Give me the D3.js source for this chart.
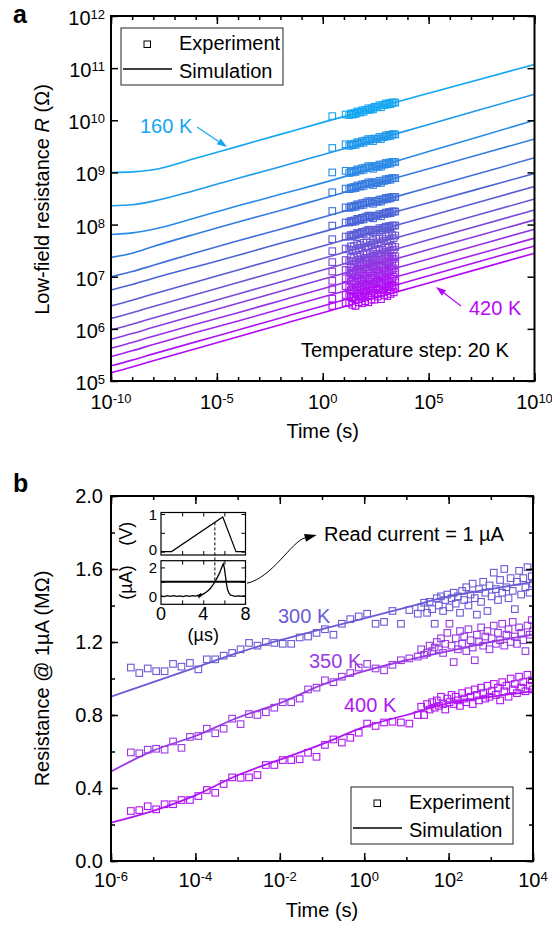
<!DOCTYPE html>
<html>
<head>
<meta charset="utf-8">
<script src="https://cdn.jsdelivr.net/npm/d3@7"></script>
<style>
  body { margin: 0; background: #fff; }
  svg { font-family: "Liberation Sans", Arial, sans-serif; }
  .ticks line { stroke: #000; stroke-width: 1.5; }
  .ticksSmall line { stroke: #000; stroke-width: 1; }
</style>
</head>
<body>
<div id="chart"></div>
<script>
// ===== panel a : simulated curves, log10(time / s) vs log10(R / ohm) =====
const tempsA = [160, 180, 200, 220, 240, 260, 280, 300, 320, 340, 360, 380, 400, 420];
const colorsA = ['#14a6f2', '#1f98ec', '#2a8ae6', '#347ce0', '#3f6fdb', '#4b63d7', '#5a5bd5',
                 '#6b55d6', '#7a4ad9', '#8a3ddf', '#9830e5', '#a322ec', '#ad14f2', '#b508f8'];
const simLogTA = [-10, -9, -8, -6, -4, -2, 0, 5, 10];
const simLogRA = [
    [9.00, 9.01, 9.05, 9.27, 9.50, 9.73, 9.96, 10.52, 11.07],
    [8.36, 8.38, 8.45, 8.66, 8.89, 9.11, 9.34, 9.92, 10.50],
    [7.81, 7.84, 7.91, 8.13, 8.36, 8.58, 8.80, 9.40, 10.00],
    [7.37, 7.45, 7.58, 7.82, 8.05, 8.27, 8.50, 9.07, 9.64],
    [7.00, 7.10, 7.22, 7.46, 7.69, 7.91, 8.14, 8.71, 9.28],
    [6.745, 6.85, 6.97, 7.19, 7.41, 7.64, 7.86, 8.42, 8.98],
    [6.44, 6.55, 6.67, 6.90, 7.13, 7.36, 7.59, 8.16, 8.73],
    [6.20, 6.31, 6.43, 6.66, 6.89, 7.12, 7.35, 7.92, 8.49],
    [5.98, 6.09, 6.21, 6.44, 6.67, 6.90, 7.13, 7.71, 8.28],
    [5.80, 5.91, 6.03, 6.26, 6.49, 6.72, 6.95, 7.52, 8.09],
    [5.63, 5.74, 5.86, 6.09, 6.31, 6.54, 6.77, 7.34, 7.91],
    [5.47, 5.58, 5.70, 5.93, 6.15, 6.38, 6.61, 7.17, 7.74],
    [5.29, 5.40, 5.52, 5.75, 5.98, 6.21, 6.44, 7.02, 7.59],
    [5.16, 5.27, 5.39, 5.62, 5.85, 6.08, 6.31, 6.88, 7.45]
];
// experiment (same log10 units)
const expLogTA = [0.45, 1.08,
    1.25, 1.325, 1.4, 1.475, 1.55, 1.625, 1.7, 1.775, 1.85, 1.925, 2.0, 2.075, 2.15, 2.225, 2.3,
    2.375, 2.45, 2.525, 2.6, 2.675, 2.75, 2.825, 2.9, 2.975, 3.05, 3.125, 3.2, 3.275, 3.35, 3.425];
const expLogRA = [
    [10.08,10.11, 10.10,10.13,10.11,10.14,10.12,10.17,10.15,10.15,10.19,10.16,10.20,10.20,10.23,10.20,10.23,10.21,10.26,10.25,10.25,10.29,10.25,10.29,10.29,10.32,10.30,10.33,10.31,10.34,10.34,10.34],
    [9.47,9.54, 9.51,9.54,9.52,9.55,9.53,9.58,9.56,9.56,9.60,9.57,9.61,9.61,9.64,9.61,9.64,9.60,9.65,9.64,9.64,9.68,9.64,9.68,9.68,9.71,9.69,9.72,9.70,9.73,9.73,9.73],
    [9.00,9.03, 8.99,9.02,9.00,9.03,9.01,9.06,9.04,9.04,9.08,9.05,9.09,9.09,9.12,9.09,9.12,9.07,9.12,9.11,9.11,9.15,9.11,9.15,9.15,9.18,9.16,9.19,9.17,9.20,9.20,9.20],
    [8.62,8.69, 8.68,8.71,8.69,8.72,8.70,8.75,8.73,8.73,8.77,8.74,8.78,8.78,8.81,8.78,8.81,8.76,8.81,8.80,8.80,8.84,8.80,8.84,8.84,8.87,8.85,8.88,8.86,8.89,8.89,8.89],
    [8.26,8.33, 8.32,8.35,8.33,8.36,8.34,8.39,8.37,8.37,8.41,8.38,8.42,8.42,8.45,8.42,8.45,8.40,8.45,8.44,8.44,8.48,8.44,8.48,8.48,8.51,8.49,8.52,8.50,8.53,8.53,8.53],
    [7.98,8.04, 8.04,8.07,8.05,8.08,8.06,8.11,8.09,8.09,8.13,8.10,8.14,8.14,8.17,8.14,8.17,8.12,8.17,8.16,8.16,8.20,8.16,8.20,8.20,8.23,8.21,8.24,8.22,8.25,8.25,8.25],
    [7.72,7.77, 7.77,7.80,7.78,7.81,7.79,7.84,7.82,7.82,7.86,7.83,7.87,7.87,7.90,7.87,7.90,7.85,7.90,7.89,7.89,7.93,7.89,7.93,7.93,7.96,7.94,7.97,7.95,7.98,7.98,7.98],
    [7.49,7.54, 7.52,7.58,7.51,7.59,7.51,7.63,7.55,7.61,7.55,7.65,7.58,7.68,7.58,7.65,7.61,7.70,7.62,7.73,7.66,7.73,7.64,7.73,7.69,7.78,7.69,7.78,7.72,7.80,7.74,7.79],
    [7.28,7.32, 7.30,7.36,7.29,7.37,7.29,7.41,7.33,7.39,7.33,7.43,7.36,7.46,7.36,7.43,7.39,7.48,7.40,7.51,7.44,7.51,7.42,7.51,7.47,7.56,7.47,7.56,7.50,7.58,7.52,7.57],
    [7.10,7.13, 7.12,7.18,7.11,7.19,7.11,7.23,7.15,7.21,7.15,7.25,7.18,7.28,7.18,7.25,7.21,7.30,7.22,7.33,7.26,7.33,7.24,7.33,7.29,7.38,7.29,7.38,7.32,7.40,7.34,7.39],
    [6.92,6.97, 6.96,7.07,6.92,7.07,6.90,7.13,6.97,7.08,6.95,7.15,6.99,7.18,6.97,7.11,7.02,7.19,7.02,7.23,7.08,7.21,7.03,7.20,7.11,7.28,7.09,7.26,7.13,7.29,7.16,7.25],
    [6.76,6.82, 6.80,6.91,6.76,6.91,6.74,6.97,6.81,6.92,6.79,6.99,6.83,7.02,6.81,6.95,6.86,7.03,6.86,7.07,6.92,7.05,6.87,7.04,6.95,7.12,6.93,7.10,6.97,7.13,7.00,7.09],
    [6.58,6.65, 6.63,6.74,6.59,6.74,6.57,6.80,6.64,6.75,6.62,6.82,6.66,6.85,6.64,6.78,6.69,6.86,6.69,6.90,6.75,6.88,6.70,6.87,6.78,6.95,6.76,6.93,6.80,6.96,6.83,6.92],
    [6.44,6.50, 6.50,6.61,6.46,6.61,6.44,6.67,6.51,6.62,6.49,6.69,6.53,6.72,6.51,6.65,6.56,6.73,6.56,6.77,6.62,6.75,6.57,6.74,6.65,6.82,6.63,6.80,6.67,6.83,6.70,6.79]
];

// ===== panel b : resistance @ 1 uA (MOhm) vs log10(time / s) =====
const tempsB = [300, 350, 400];
const colorsB = ['#6b5bd6', '#9a3ae4', '#b015f2'];
const simLogTB = [-6, -5, -4, -3, -2, -1, 0, 1, 2, 3, 4];
const sim300 = [0.90, 0.98, 1.06, 1.14, 1.21, 1.27, 1.33, 1.39, 1.45, 1.49, 1.53];
const sim350 = [0.49, 0.605, 0.685, 0.785, 0.865, 0.965, 1.04, 1.10, 1.15, 1.20, 1.24];
const sim400 = [0.21, 0.275, 0.36, 0.47, 0.555, 0.64, 0.735, 0.80, 0.865, 0.90, 0.93];
const expLogTB = [
    -5.53,-5.33,-5.13,-4.93,-4.73,-4.53,-4.33,-4.13,-3.93,-3.73,
    -3.53,-3.33,-3.13,-2.93,-2.73,-2.53,-2.33,-2.13,-1.93,-1.73,
    -1.53,-1.33,-1.13,-0.93,-0.73,-0.53,-0.33,-0.13,0.07,0.27,
    0.47,0.67,0.87,1.07,1.27,1.35,1.42,1.49,1.55,1.61,
    1.67,1.72,1.77,1.82,1.87,1.92,1.97,2.02,2.07,2.12,
    2.17,2.22,2.27,2.32,2.37,2.42,2.47,2.52,2.57,2.62,
    2.67,2.72,2.77,2.82,2.87,2.92,2.97,3.02,3.07,3.12,
    3.17,3.22,3.27,3.32,3.37,3.42,3.47,3.52,3.57,3.62,
    3.67,3.72,3.77,3.82,3.87,3.92,3.97,4.0
];
const exp300 = [
    1.06,1.03,1.055,1.04,1.04,1.08,1.065,1.085,1.05,1.105,
    1.105,1.125,1.14,1.16,1.195,1.18,1.20,1.195,1.19,1.19,
    1.225,1.23,1.25,1.27,1.24,1.30,1.325,1.34,1.355,1.30,
    1.31,1.37,1.30,1.375,1.355,1.39,1.415,1.36,1.42,1.38,
    1.30,1.44,1.40,1.45,1.37,1.43,1.46,1.39,1.44,1.47,
    1.41,1.45,1.36,1.48,1.43,1.50,1.40,1.46,1.52,1.44,
    1.35,1.49,1.42,1.53,1.47,1.37,1.51,1.45,1.58,1.49,
    1.43,1.54,1.47,1.60,1.50,1.44,1.55,1.48,1.38,1.53,
    1.59,1.46,1.55,1.50,1.61,1.47,1.56,1.52
];
const exp350 = [
    0.595,0.59,0.61,0.615,0.61,0.655,0.62,0.68,0.685,0.725,
    0.70,0.725,0.78,0.75,0.805,0.80,0.815,0.84,0.87,0.87,
    0.89,0.94,0.95,0.99,0.98,1.01,1.03,1.06,1.08,1.055,
    1.045,1.075,1.10,1.11,1.12,1.16,1.13,1.14,1.18,1.15,
    1.17,1.20,1.16,1.22,1.14,1.19,1.25,1.30,1.18,1.09,
    1.22,1.16,1.26,1.19,1.23,1.15,1.27,1.21,1.17,1.10,
    1.24,1.20,1.28,1.18,1.23,1.26,1.16,1.22,1.29,1.19,
    1.25,1.21,1.30,1.18,1.24,1.27,1.20,1.31,1.23,1.19,
    1.28,1.25,1.21,1.15,1.29,1.24,1.32,1.26
];
const exp400 = [
    0.274,0.279,0.30,0.283,0.311,0.311,0.334,0.334,0.356,0.389,
    0.374,0.422,0.458,0.456,0.458,0.471,0.526,0.526,0.553,0.553,
    0.557,0.593,0.571,0.636,0.666,0.649,0.675,0.703,0.753,0.74,
    0.759,0.763,0.759,0.753,0.80,0.845,0.80,0.86,0.83,0.87,
    0.84,0.88,0.85,0.90,0.86,0.83,0.89,0.87,0.91,0.86,
    0.90,0.88,0.85,0.92,0.89,0.87,0.93,0.90,0.86,0.94,
    0.91,0.88,0.95,0.92,0.89,0.96,0.90,0.93,0.97,0.91,
    0.95,0.88,0.98,0.93,0.96,0.90,1.00,0.94,0.97,0.92,
    1.01,0.95,0.98,0.93,1.02,0.96,0.99,0.94
];

// ===== inset: read pulse =====
const voltT = [0, 1, 5.85, 7.1, 8];          // us
const voltV = [0, 0, 0.92, 0, 0];            // V
const currT = [0,0.3,0.6,0.9,1.2,1.5,1.8,2.1,2.4,2.7,3.0,3.3,3.5,3.6,3.65,3.7,3.75,3.8,3.9,4.1,
               4.3,4.5,4.7,4.9,5.1,5.3,5.5,5.65,5.8,5.9,6.0,6.1,6.2,6.3,6.45,6.6,6.8,7.0,7.3,7.6,8.0];
const currI = [0.0,-0.04,0.02,-0.03,0.03,-0.02,0.01,-0.04,0.02,-0.02,0.03,-0.01,0.05,-0.08,0.14,-0.05,0.18,0.02,0.1,0.18,
               0.28,0.4,0.56,0.76,0.98,1.25,1.55,1.8,2.1,2.25,1.95,1.4,0.85,0.45,0.18,0.06,0.02,-0.02,0.01,-0.01,0.0];
const readCurrent = 1;   // uA
const readTime = 5.1;    // us, where the current crosses the read level

var svg;

document.addEventListener('DOMContentLoaded', function () {
    svg = d3.select('#chart').append('svg')
        .attr('width', 552)
        .attr('height', 927);

    drawPanelA();
    drawPanelB();
    drawInset();
});

// inward ticks only, no domain line (frame is drawn as a rect)
function addTicks(axis, tx, ty, values, size, cls) {
    svg.append('g')
        .attr('class', cls || 'ticks')
        .attr('transform', `translate(${tx},${ty})`)
        .call(axis.tickValues(values).tickSize(-size).tickFormat(''))
        .call(g => g.select('.domain').remove());
}

function powLabel(x, y, exp, anchor) {
    const t = svg.append('text')
        .attr('x', x).attr('y', y)
        .attr('text-anchor', anchor)
        .style('font-size', '20px');
    t.append('tspan').text('10');
    t.append('tspan').attr('dy', -6).style('font-size', '13px').text(exp);
}

function drawArrow(x1, y1, x2, y2, color, len, half) {
    const a = Math.atan2(y2 - y1, x2 - x1);
    const bx = x2 - len * Math.cos(a), by = y2 - len * Math.sin(a);
    svg.append('line')
        .attr('x1', x1).attr('y1', y1).attr('x2', bx).attr('y2', by)
        .attr('stroke', color).attr('stroke-width', 1.2);
    svg.append('path')
        .attr('d', `M${x2},${y2}L${bx - half * Math.sin(a)},${by + half * Math.cos(a)}L${bx + half * Math.sin(a)},${by - half * Math.cos(a)}Z`)
        .attr('fill', color);
}

function drawLegend(x, y) {
    svg.append('rect')
        .attr('x', x).attr('y', y).attr('width', 162).attr('height', 57)
        .attr('fill', '#fff').attr('stroke', '#222').attr('stroke-width', 1);
    svg.append('rect')
        .attr('x', x + 23).attr('y', y + 13).attr('width', 6.5).attr('height', 6.5)
        .attr('fill', 'none').attr('stroke', '#000').attr('stroke-width', 1);
    svg.append('text').attr('x', x + 58).attr('y', y + 21.5)
        .style('font-size', '20px').text('Experiment');
    svg.append('line')
        .attr('x1', x + 2).attr('x2', x + 51).attr('y1', y + 41).attr('y2', y + 41)
        .attr('stroke', '#000').attr('stroke-width', 1.5);
    svg.append('text').attr('x', x + 58).attr('y', y + 50)
        .style('font-size', '20px').text('Simulation');
}

function drawPanelA() {
    const xA = d3.scaleLog().domain([1e-10, 1e10]).range([111, 534.5]);
    const yA = d3.scaleLog().domain([1e5, 1e12]).range([381, 16]);
    const [x0, x1] = xA.range();
    const [y0, y1] = yA.range();

    svg.append('defs').append('clipPath').attr('id', 'clipA')
        .append('rect').attr('x', x0).attr('y', y1).attr('width', x1 - x0).attr('height', y0 - y1);

    const plot = svg.append('g').attr('clip-path', 'url(#clipA)');

    // simulation lines
    const lineA = d3.line()
        .x(d => xA(Math.pow(10, d[0])))
        .y(d => yA(Math.pow(10, d[1])))
        .curve(d3.curveMonotoneX);

    tempsA.forEach(function (T, i) {
        const pts = simLogTA.map((t, j) => [t, simLogRA[i][j]]);
        plot.append('path')
            .attr('d', lineA(pts))
            .attr('fill', 'none')
            .attr('stroke', colorsA[i])
            .attr('stroke-width', 1.6);
    });

    // experiment squares
    tempsA.forEach(function (T, i) {
        plot.append('g').selectAll('rect')
            .data(expLogTA.map((t, j) => [t, expLogRA[i][j]]))
            .join('rect')
            .attr('x', d => xA(Math.pow(10, d[0])) - 3.3)
            .attr('y', d => yA(Math.pow(10, d[1])) - 3.3)
            .attr('width', 6.6).attr('height', 6.6)
            .attr('fill', 'none')
            .attr('stroke', colorsA[i])
            .attr('stroke-width', 1.1);
    });

    // axes
    const xDec = d3.range(-10, 11).map(e => Math.pow(10, e));
    const xMajE = [-10, -5, 0, 5, 10];
    const xMaj = xMajE.map(e => Math.pow(10, e));
    const yDecE = d3.range(5, 13);
    const yDec = yDecE.map(e => Math.pow(10, e));

    addTicks(d3.axisBottom(xA), 0, y0, xDec, 4);
    addTicks(d3.axisBottom(xA), 0, y0, xMaj, 8);
    addTicks(d3.axisTop(xA), 0, y1, xDec, 4);
    addTicks(d3.axisTop(xA), 0, y1, xMaj, 8);
    addTicks(d3.axisLeft(yA), x0, 0, yDec, 7);
    addTicks(d3.axisRight(yA), x1, 0, yDec, 7);

    svg.append('rect')
        .attr('x', x0).attr('y', y1).attr('width', x1 - x0).attr('height', y0 - y1)
        .attr('fill', 'none').attr('stroke', '#000').attr('stroke-width', 2);

    xMajE.forEach(e => powLabel(xA(Math.pow(10, e)), 409, e, 'middle'));
    yDecE.forEach(e => powLabel(105, yA(Math.pow(10, e)) + 9, e, 'end'));

    svg.append('text')
        .attr('x', (x0 + x1) / 2).attr('y', 438)
        .attr('text-anchor', 'middle')
        .style('font-size', '20px')
        .text('Time (s)');

    const yt = svg.append('text')
        .attr('transform', `translate(49,${(y0 + y1) / 2 + 1}) rotate(-90)`)
        .attr('text-anchor', 'middle')
        .style('font-size', '20px');
    yt.append('tspan').text('Low-field resistance ');
    yt.append('tspan').style('font-style', 'italic').text('R');
    yt.append('tspan').text(' (\u03A9)');

    // panel letter
    svg.append('text').attr('x', 13).attr('y', 23)
        .style('font-size', '25px').style('font-weight', 'bold').text('a');

    drawLegend(121, 28);

    // annotations
    svg.append('text').attr('x', 140).attr('y', 133)
        .style('font-size', '20px').attr('fill', colorsA[0]).text('160 K');
    drawArrow(197, 127, 227, 147, colorsA[0], 10, 3.5);

    svg.append('text').attr('x', 469).attr('y', 315)
        .style('font-size', '20px').attr('fill', colorsA[13]).text('420 K');
    drawArrow(461, 306, 436, 287, colorsA[13], 10, 3.5);

    svg.append('text').attr('x', 301).attr('y', 356.5)
        .style('font-size', '20px').text('Temperature step: 20 K');
}

function drawPanelB() {
    const xB = d3.scaleLog().domain([1e-6, 1e4]).range([111, 533]);
    const yB = d3.scaleLinear().domain([0, 2]).range([861, 496]);
    const [x0, x1] = xB.range();
    const [y0, y1] = yB.range();

    svg.append('defs').append('clipPath').attr('id', 'clipB')
        .append('rect').attr('x', x0).attr('y', y1).attr('width', x1 - x0).attr('height', y0 - y1);

    const plot = svg.append('g').attr('clip-path', 'url(#clipB)');

    const simB = [sim300, sim350, sim400];
    const expB = [exp300, exp350, exp400];

    const lineB = d3.line()
        .x(d => xB(Math.pow(10, d[0])))
        .y(d => yB(d[1]))
        .curve(d3.curveMonotoneX);

    simB.forEach(function (s, i) {
        plot.append('path')
            .attr('d', lineB(simLogTB.map((t, j) => [t, s[j]])))
            .attr('fill', 'none')
            .attr('stroke', colorsB[i])
            .attr('stroke-width', 1.8);
    });

    expB.forEach(function (e, i) {
        plot.append('g').selectAll('rect')
            .data(expLogTB.map((t, j) => [t, e[j]]))
            .join('rect')
            .attr('x', d => xB(Math.pow(10, d[0])) - 3.3)
            .attr('y', d => yB(d[1]) - 3.3)
            .attr('width', 6.6).attr('height', 6.6)
            .attr('fill', 'none')
            .attr('stroke', colorsB[i])
            .attr('stroke-width', 1.1);
    });

    // axes
    const xE = d3.range(-6, 5);
    const xAll = xE.map(e => Math.pow(10, e));
    const xMajE = xE.filter(e => e % 2 === 0);
    const xMaj = xMajE.map(e => Math.pow(10, e));
    const yMinor = d3.range(0, 2.01, 0.2);
    const yMajor = d3.range(0, 2.01, 0.4);

    addTicks(d3.axisBottom(xB), 0, y0, xAll, 4);
    addTicks(d3.axisBottom(xB), 0, y0, xMaj, 8);
    addTicks(d3.axisTop(xB), 0, y1, xAll, 4);
    addTicks(d3.axisTop(xB), 0, y1, xMaj, 8);
    addTicks(d3.axisLeft(yB), x0, 0, yMinor, 4);
    addTicks(d3.axisLeft(yB), x0, 0, yMajor, 7);
    addTicks(d3.axisRight(yB), x1, 0, yMinor, 4);
    addTicks(d3.axisRight(yB), x1, 0, yMajor, 7);

    svg.append('rect')
        .attr('x', x0).attr('y', y1).attr('width', x1 - x0).attr('height', y0 - y1)
        .attr('fill', 'none').attr('stroke', '#000').attr('stroke-width', 2);

    xMajE.forEach(e => powLabel(xB(Math.pow(10, e)), 887, e, 'middle'));
    yMajor.forEach(v => svg.append('text')
        .attr('x', 103).attr('y', yB(v) + 7.3)
        .attr('text-anchor', 'end')
        .style('font-size', '20px')
        .text(d3.format('.1f')(v)));

    svg.append('text')
        .attr('x', (x0 + x1) / 2).attr('y', 917)
        .attr('text-anchor', 'middle')
        .style('font-size', '20px')
        .text('Time (s)');

    svg.append('text')
        .attr('transform', `translate(49,${(y0 + y1) / 2}) rotate(-90)`)
        .attr('text-anchor', 'middle')
        .style('font-size', '20px')
        .text('Resistance @ 1\u00B5A (M\u03A9)');

    svg.append('text').attr('x', 13).attr('y', 491.5)
        .style('font-size', '25px').style('font-weight', 'bold').text('b');

    // temperature labels
    const labelPos = [[278, 623], [309, 668], [344, 711.5]];
    tempsB.forEach(function (T, i) {
        svg.append('text')
            .attr('x', labelPos[i][0]).attr('y', labelPos[i][1])
            .style('font-size', '20px')
            .attr('fill', colorsB[i])
            .text(T + ' K');
    });

    drawLegend(351, 787);
}

function drawInset() {
    const xI = d3.scaleLinear().domain([0, 8]).range([161, 245.5]);
    const yV = d3.scaleLinear().domain([-0.09, 1.04]).range([555, 512.5]);
    const yI = d3.scaleLinear().domain([-0.58, 2.47]).range([604.3, 560.7]);
    const [ix0, ix1] = xI.range();

    [yV, yI].forEach(function (ys) {
        svg.append('rect')
            .attr('x', ix0).attr('y', ys.range()[1])
            .attr('width', ix1 - ix0).attr('height', ys.range()[0] - ys.range()[1])
            .attr('fill', '#fff').attr('stroke', '#000').attr('stroke-width', 1.2);
    });

    const xt = [2, 4, 6];
    addTicks(d3.axisTop(xI), 0, yV.range()[1], xt, 4, 'ticksSmall');
    addTicks(d3.axisBottom(xI), 0, yV.range()[0], xt, 4, 'ticksSmall');
    addTicks(d3.axisTop(xI), 0, yI.range()[1], xt, 4, 'ticksSmall');
    addTicks(d3.axisBottom(xI), 0, yI.range()[0], xt, 4, 'ticksSmall');
    addTicks(d3.axisLeft(yV), ix0, 0, [0, 0.5, 1], 4, 'ticksSmall');
    addTicks(d3.axisRight(yV), ix1, 0, [0, 0.5, 1], 4, 'ticksSmall');
    addTicks(d3.axisLeft(yI), ix0, 0, [0, 1, 2], 4, 'ticksSmall');
    addTicks(d3.axisRight(yI), ix1, 0, [0, 1, 2], 4, 'ticksSmall');

    // voltage ramp
    svg.append('path')
        .attr('d', d3.line().x(d => xI(d[0])).y(d => yV(d[1]))(voltT.map((t, j) => [t, voltV[j]])))
        .attr('fill', 'none').attr('stroke', '#000').attr('stroke-width', 1.2);

    // current trace
    svg.append('path')
        .attr('d', d3.line().x(d => xI(d[0])).y(d => yI(d[1]))(currT.map((t, j) => [t, currI[j]])))
        .attr('fill', 'none').attr('stroke', '#000').attr('stroke-width', 1.3);

    // read level
    svg.append('line')
        .attr('x1', ix0).attr('x2', ix1)
        .attr('y1', yI(readCurrent)).attr('y2', yI(readCurrent))
        .attr('stroke', '#000').attr('stroke-width', 2);

    // dashed marker at the read time
    const vAtRead = d3.scaleLinear().domain([voltT[1], voltT[2]]).range([voltV[1], voltV[2]])(readTime);
    svg.append('line')
        .attr('x1', xI(readTime)).attr('x2', xI(readTime))
        .attr('y1', yV(vAtRead)).attr('y2', yI(readCurrent))
        .attr('stroke', '#000').attr('stroke-width', 1)
        .attr('stroke-dasharray', '3,2');

    // labels (the lower "0" of the V panel and the "2" of the current panel sit close)
    [[1, yV, 6], [0, yV, 3.5], [2, yI, 6], [0, yI, 6]].forEach(function (d) {
        svg.append('text')
            .attr('x', 157).attr('y', d[1](d[0]) + d[2])
            .attr('text-anchor', 'end')
            .style('font-size', '15px')
            .text(d[0]);
    });
    [0, 4, 8].forEach(v => svg.append('text')
        .attr('x', xI(v)).attr('y', 620)
        .attr('text-anchor', 'middle')
        .style('font-size', '18px')
        .text(v));
    svg.append('text').attr('x', xI(4)).attr('y', 641)
        .attr('text-anchor', 'middle').style('font-size', '18px').text('(\u00B5s)');
    svg.append('text')
        .attr('transform', `translate(132,${(yV.range()[0] + yV.range()[1]) / 2}) rotate(-90)`)
        .attr('text-anchor', 'middle').style('font-size', '18px').text('(V)');
    svg.append('text')
        .attr('transform', `translate(132,${(yI.range()[0] + yI.range()[1]) / 2}) rotate(-90)`)
        .attr('text-anchor', 'middle').style('font-size', '18px').text('(\u00B5A)');

    // annotation arrow to "Read current"
    const sx = ix1 + 1.5, sy = yI(readCurrent) + 1.5;
    const tipX = 316.7, tipY = 535;
    const c1x = 272, c1y = 578, c2x = 292, c2y = 541;
    const a = Math.atan2(tipY - c2y, tipX - c2x);
    const hl = 12, hw = 4;
    const bx = tipX - hl * Math.cos(a), by = tipY - hl * Math.sin(a);
    svg.append('path')
        .attr('d', `M${sx},${sy}C${c1x},${c1y} ${c2x},${c2y} ${bx},${by}`)
        .attr('fill', 'none').attr('stroke', '#000').attr('stroke-width', 1);
    svg.append('path')
        .attr('d', `M${tipX},${tipY}L${bx - hw * Math.sin(a)},${by + hw * Math.cos(a)}L${bx + hw * Math.sin(a)},${by - hw * Math.cos(a)}Z`)
        .attr('fill', '#000');

    svg.append('text').attr('x', 324).attr('y', 541)
        .style('font-size', '20px')
        .text('Read current = 1 \u00B5A');
}
</script>
</body>
</html>
